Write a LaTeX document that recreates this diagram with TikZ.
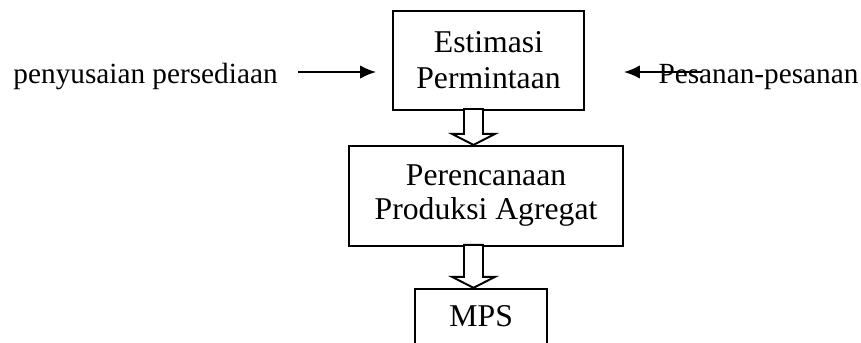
\documentclass[tikz,border=0pt]{standalone}
\usepackage{fontspec}
\setmainfont{Liberation Serif}
\usetikzlibrary{positioning,calc,arrows.meta}

% hollow block arrow from #1 (top of shaft) to #2 (tip)
\newcommand{\blockarrow}[2]{%
  \draw[hollow] ($(#1)+(-9.5,-2)$) -- ($(#2)+(-9.5,-11)$) -- ($(#2)+(-21.5,-11)$) -- (#2)
    -- ($(#2)+(21.5,-11)$) -- ($(#2)+(9.5,-11)$) -- ($(#1)+(9.5,-2)$) -- cycle;}

\begin{document}
\begin{tikzpicture}[x=0.41pt,y=-0.41pt,
  box/.style={draw,line width=0.8pt,inner sep=0pt,align=center,font=\fontsize{13}{14}\selectfont},
  side/.style={inner sep=0pt,anchor=base west,font=\fontsize{12}{14}\selectfont},
  sidearrow/.style={-{Latex[length=6.5pt,width=5.5pt]},line width=0.8pt},
  hollow/.style={draw,fill=white,line width=0.8pt,line join=miter}]
\useasboundingbox (0,0) rectangle (861,342);

% nodes
\node (est) [box,font=\fontsize{13}{14.8}\selectfont,minimum width=78.3pt,minimum height=40.6pt] at (488.5,60.5) {Estimasi\\Permintaan};
\node (ppa) [box,minimum width=112.3pt,minimum height=41pt,below=13.9pt of est,xshift=-1pt] {Perencanaan\\Produksi Agregat};
\node (mps) [box,minimum width=54.1pt,minimum height=22.6pt,below=16.8pt of ppa,xshift=-2pt] {MPS};
\node (lt) [side] at (13,83) {penyusaian persediaan};
\node (rt) [side] at (658,83) {Pesanan-pesanan};
\coordinate (ax) at (473.5,0);

% arrows
\draw[sidearrow] ($(lt.base east)+(20,-11)$) -- ($(est.west |- lt.base)+(-16,-11)$);
\draw[sidearrow] ($(rt.base west)+(44,-11)$) -- ($(est.east |- rt.base)+(39,-11)$);
\blockarrow{est.south -| ax}{ppa.north -| ax}
\blockarrow{ppa.south -| ax}{mps.north -| ax}
\end{tikzpicture}
\end{document}
